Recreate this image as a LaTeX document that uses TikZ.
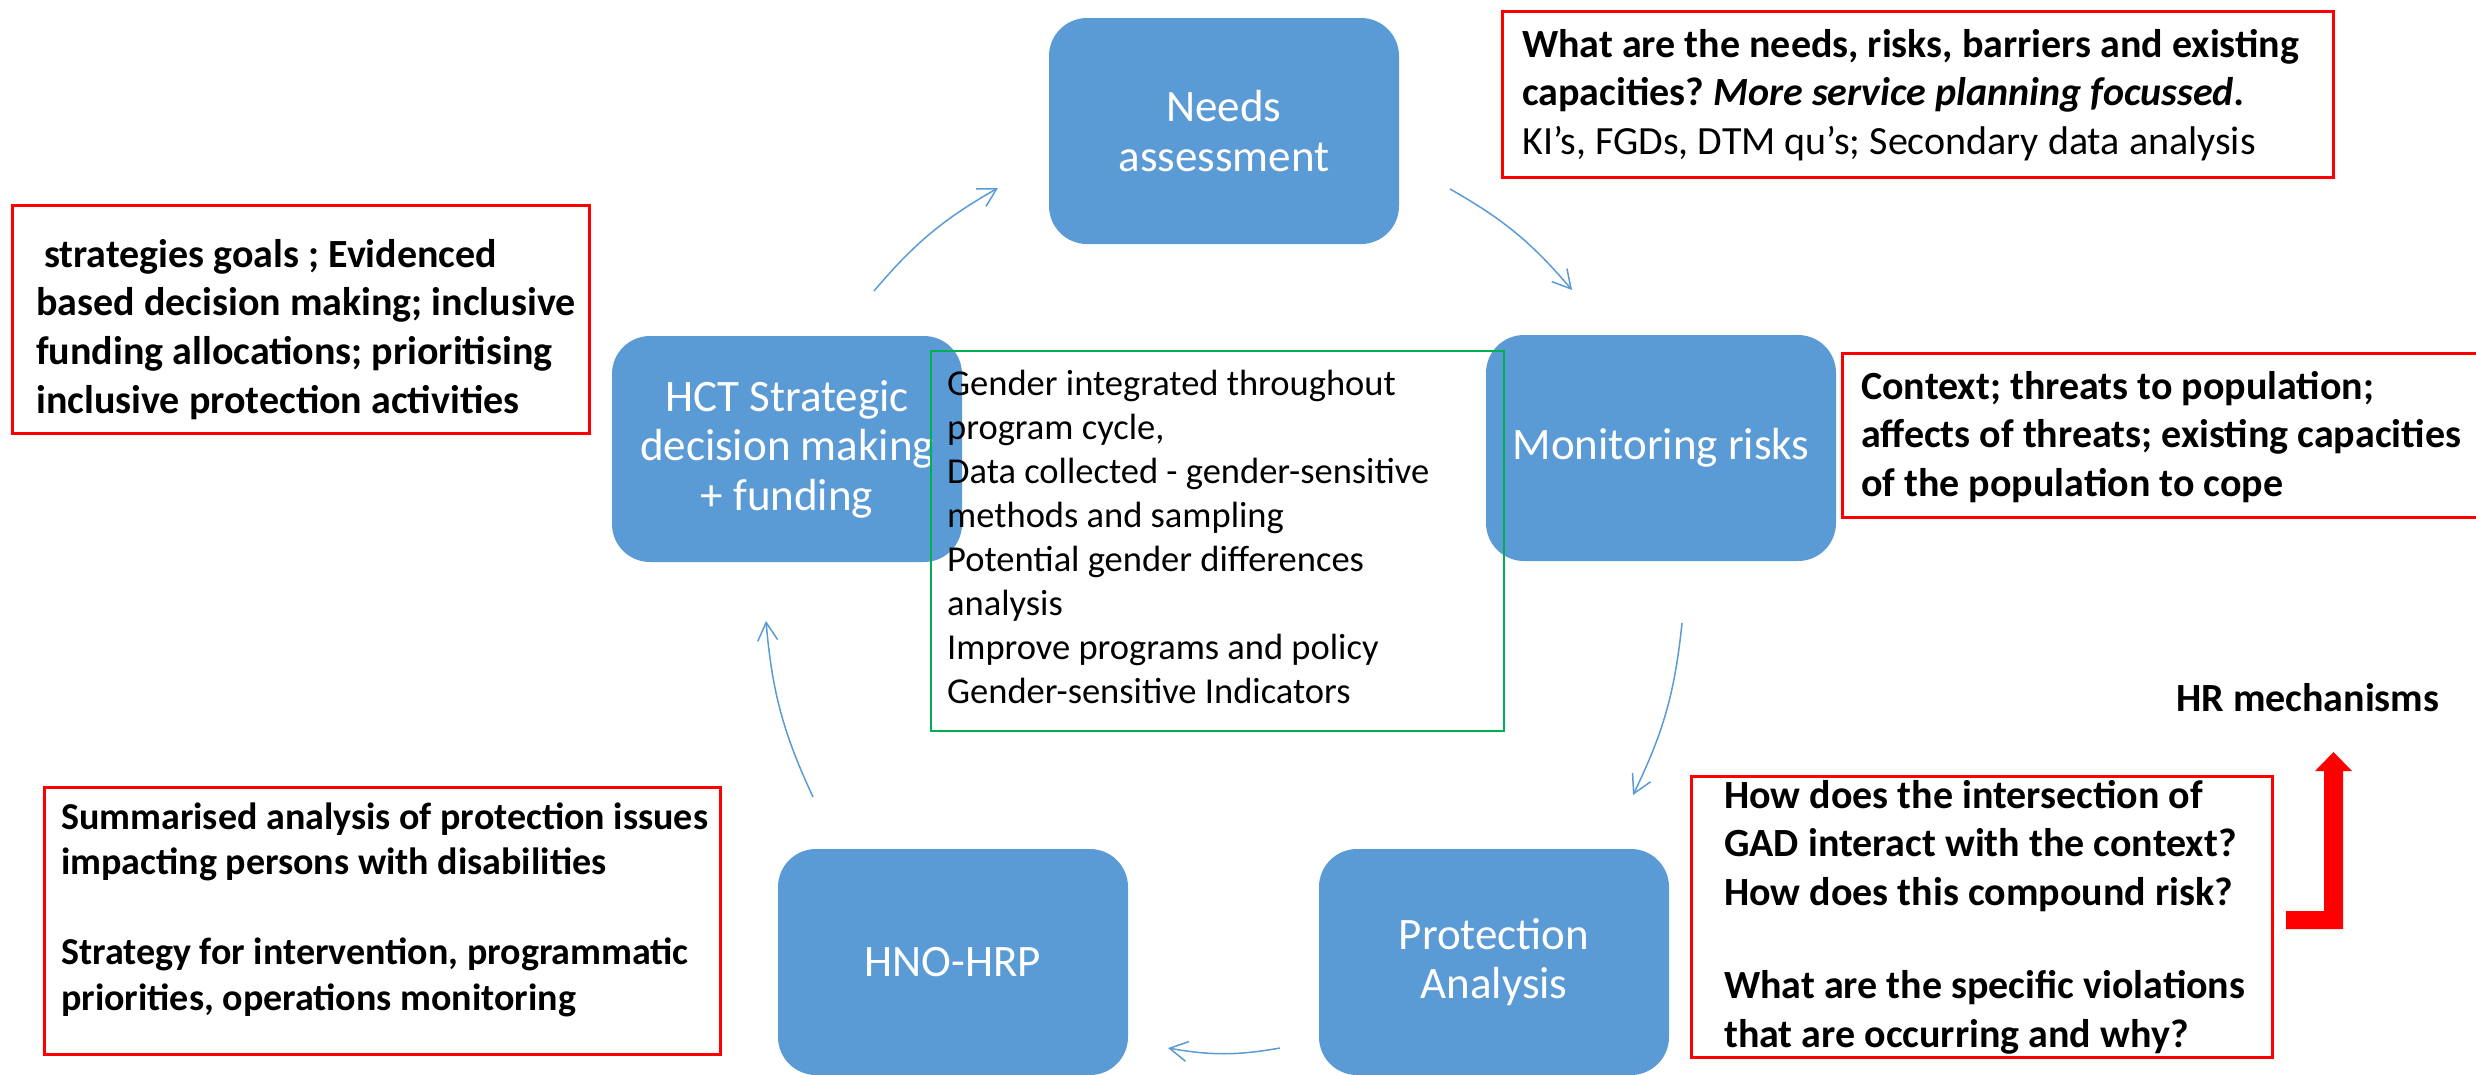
\documentclass[tikz,border=0pt]{standalone}
\usepackage{fontspec}
\setmainfont{Carlito}
\usetikzlibrary{arrows.meta}
\frenchspacing

\definecolor{stageblue}{HTML}{5B9BD5}
\definecolor{notered}{HTML}{FF0000}
\definecolor{genderg}{HTML}{00B050}

\tikzset{
  stage/.style={rectangle, rounded corners=38pt, fill=stageblue, draw=none,
    minimum width=350pt, minimum height=226pt, inner sep=0pt, text=white,
    font=\fontsize{45}{49.5}\selectfont, align=center},
  notebox/.style={rectangle, draw=notered, line width=2.5pt, inner sep=0pt, anchor=north west},
  % left-aligned text blocks keep the font's own word spacing
  plainleft/.style={anchor=base west, inner sep=0pt, align=left,
    execute at begin node={\spaceskip=0pt\xspaceskip=0pt}},
  notetext/.style={plainleft, font=\fontsize{40}{48.8}\selectfont\bfseries},
  cycarrow/.style={draw=stageblue, line width=1.5pt,
    -{Straight Barb[length=18pt,width=20pt]}, bend left=10}
}

\begin{document}
\begin{tikzpicture}[x=1pt,y=1pt]
\useasboundingbox (0,0) rectangle (2476,-1074);

% cycle stages
\node[stage] (needs) at (1224,-131) {Needs\\assessment};
\node[stage] (monitor) at (1661,-448) {Monitoring risks};
\node[stage] (protect) at (1494,-962) {Protection\\Analysis};
\node[stage] (hno) at (953,-962) {HNO-HRP};
\node[stage] (hct) at (787,-449) {HCT Strategic\\decision making\\+ funding};

% gender box in the middle of the cycle
\node[rectangle, draw=genderg, line width=2pt, anchor=north west, inner sep=0pt,
  minimum width=573pt, minimum height=380pt] (genderbox) at (930,-350) {};
\node[plainleft, text width=560pt, font=\fontsize{36.5}{44}\selectfont] (gendertext) at (947,-395)
  {Gender integrated throughout\\program cycle,\\Data collected - gender-sensitive\\methods and sampling\\Potential gender differences\\analysis\\Improve programs and policy\\Gender-sensitive Indicators};

% arrows between the stages
\coordinate (a1s) at (874,-291);  \coordinate (a1e) at (998,-188);
\coordinate (a2s) at (1450,-189); \coordinate (a2e) at (1572,-290);
\coordinate (a3s) at (1682,-623); \coordinate (a3e) at (1633,-795);
\coordinate (a4s) at (1280,-1048); \coordinate (a4e) at (1168,-1048);
\coordinate (a5s) at (813,-797);  \coordinate (a5e) at (766,-621);
\draw[cycarrow] (a1s) to (a1e);
\draw[cycarrow] (a2s) to (a2e);
\draw[cycarrow] (a3s) to (a3e);
\draw[cycarrow] (a4s) to (a4e);
\draw[cycarrow] (a5s) to (a5e);

% notes on the needs assessment
\node[notebox, minimum width=831pt, minimum height=166pt] (needsbox) at (1501,-10) {};
\node[notetext, text width=820pt] (needsnote) at (1522,-57)
  {What are the needs, risks, barriers and existing\\
   capacities? \textit{More service planning focussed.}\\
   {\mdseries KI’s, FGDs, DTM qu’s; Secondary data analysis}};

% notes on strategic decision making
\node[notebox, minimum width=577pt, minimum height=228pt] (hctbox) at (11,-204) {};
\node[notetext, text width=560pt] (hctnote) at (36,-267)
  {\hspace*{8pt}strategies goals ; Evidenced\\
   based decision making; inclusive\\
   funding allocations; prioritising\\
   inclusive protection activities};

% notes on monitoring risks
\node[notebox, minimum width=760pt, minimum height=164pt] (monbox) at (1841,-352) {};
\node[notetext, text width=620pt] (monnote) at (1861,-399)
  {Context; threats to population;\\
   affects of threats; existing capacities\\
   of the population to cope};

% notes on protection analysis
\node[notebox, minimum width=581pt, minimum height=281pt] (protbox) at (1690,-775) {};
\node[notetext, text width=560pt] (protnote) at (1724,-808)
  {How does the intersection of\\
   GAD interact with the context?\\
   How does this compound risk?\\[44pt]
   What are the specific violations\\
   that are occurring and why?};

% notes on HNO-HRP
\node[notebox, minimum width=676pt, minimum height=267pt] (hnobox) at (43,-786) {};
\node[notetext, text width=660pt, font=\fontsize{38}{45.75}\selectfont\bfseries] (hnonote) at (61,-829)
  {Summarised analysis of protection issues\\
   impacting persons with disabilities\\[44pt]
   Strategy for intervention, programmatic\\
   priorities, operations monitoring};

% human rights mechanisms
\node[notetext] (hrlabel) at (2176,-711) {HR mechanisms};
\fill[notered] (2286,-911) -- (2324,-911) -- (2324,-771) -- (2315,-771)
  -- (2333.5,-752) -- (2352,-771) -- (2343,-771) -- (2343,-929)
  -- (2286,-929) -- cycle;

\end{tikzpicture}
\end{document}
